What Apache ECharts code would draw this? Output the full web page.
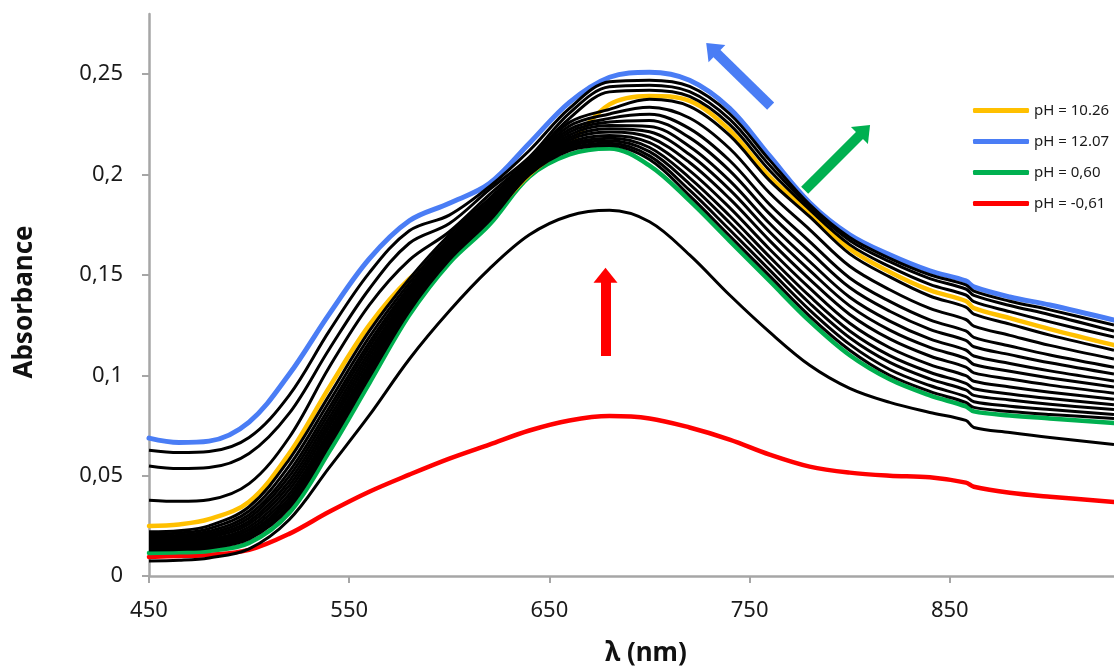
<!DOCTYPE html>
<html><head><meta charset="utf-8">
<script src="https://cdn.jsdelivr.net/npm/echarts@6.0.0/dist/echarts.min.js"></script>
<style>html,body{margin:0;padding:0;background:#fff}#c{width:1114px;height:668px}</style>
</head><body><div id="c"></div><script>
// wavelengths (nm)
const wavelengths = [450, 465, 480, 500, 520, 540, 560, 580, 600, 620, 640, 660, 680, 700, 720, 740, 760, 780, 800, 820, 840, 858, 862, 880, 900, 932];
const xTicks = [450, 550, 650, 750, 850];
const yTicks = [0, 0.05, 0.1, 0.15, 0.2, 0.25];

// highlighted spectra
const absPH1026 = [.0249, .0257, .0283, .0370, .0610, .0940, .1250, .1480, .1624, .1790, .2000, .2156, .2350, .2392, .2367, .2221, .1989, .1810, .1630, .1515, .1424, .1370, .1335, .1285, .1230, .1150];
const absPH1207 = [.0687, .0665, .0672, .0767, .1005, .1305, .1580, .1770, .1857, .1955, .2156, .2360, .2485, .2510, .2470, .2330, .2093, .1860, .1700, .1600, .1520, .1470, .1440, .1390, .1350, .1275];
const absPH060 = [.0115, .0118, .0125, .0165, .0314, .0620, .0960, .1300, .1560, .1750, .1990, .2100, .2130, .2045, .1870, .1670, .1470, .1270, .1100, .0980, .0900, .0845, .0820, .0800, .0785, .0762];
const absPHm061 = [.0095, .0100, .0105, .0130, .0210, .0320, .0420, .0505, .0585, .0655, .0725, .0775, .0797, .0785, .0740, .0680, .0605, .0545, .0515, .0500, .0492, .0465, .0445, .0415, .0395, .0369];

// other (black) spectra
const absK0 = [.0075, .0078, .0090, .0135, .0280, .0540, .0800, .1080, .1320, .1530, .1700, .1795, .1822, .1765, .1600, .1400, .1215, .1050, .0935, .0865, .0815, .0775, .0740, .0715, .0690, .0655];
const absU1 = [.0627, .0615, .0620, .0690, .0900, .1220, .1510, .1720, .1798, .1940, .2120, .2330, .2462, .2470, .2439, .2303, .2072, .1850, .1686, .1583, .1501, .1450, .1419, .1369, .1326, .1250];
const absU2 = [.0548, .0535, .0540, .0610, .0810, .1130, .1430, .1658, .1756, .1925, .2087, .2306, .2437, .2445, .2413, .2276, .2046, .1840, .1672, .1566, .1482, .1430, .1398, .1348, .1302, .1220];
const absU3 = [.0378, .0372, .0380, .0460, .0690, .1040, .1350, .1574, .1715, .1900, .2075, .2280, .2412, .2420, .2389, .2250, .2020, .1825, .1651, .1541, .1453, .1400, .1367, .1317, .1266, .1190];
const absM0 = [.0130, .0132, .0140, .0185, .0340, .0650, .0990, .1320, .1575, .1770, .2000, .2120, .2145, .2075, .1895, .1695, .1495, .1295, .1125, .1000, .0920, .0865, .0840, .0820, .0805, .0785];
const absM1 = [.0135, .0138, .0147, .0195, .0354, .0665, .1004, .1330, .1583, .1777, .2004, .2128, .2156, .2093, .1922, .1725, .1524, .1325, .1154, .1029, .0949, .0894, .0868, .0846, .0829, .0805];
const absM2 = [.0142, .0144, .0154, .0206, .0371, .0683, .1020, .1341, .1591, .1784, .2009, .2138, .2168, .2114, .1953, .1760, .1557, .1359, .1187, .1064, .0982, .0927, .0900, .0877, .0856, .0829];
const absM3 = [.0148, .0151, .0162, .0217, .0388, .0700, .1036, .1352, .1600, .1792, .2014, .2148, .2181, .2135, .1984, .1795, .1590, .1394, .1221, .1098, .1015, .0960, .0933, .0907, .0884, .0853];
const absM4 = [.0155, .0158, .0171, .0230, .0407, .0720, .1054, .1365, .1610, .1801, .2020, .2159, .2195, .2159, .2020, .1835, .1628, .1434, .1259, .1137, .1053, .0998, .0970, .0942, .0916, .0880];
const absM5 = [.0163, .0167, .0181, .0244, .0429, .0743, .1075, .1379, .1621, .1811, .2026, .2172, .2212, .2186, .2060, .1880, .1671, .1478, .1303, .1181, .1096, .1041, .1012, .0981, .0951, .0911];
const absM6 = [.0171, .0175, .0191, .0259, .0450, .0765, .1096, .1394, .1633, .1821, .2032, .2184, .2228, .2213, .2100, .1925, .1714, .1523, .1346, .1225, .1139, .1084, .1054, .1020, .0987, .0941];
const absM7 = [.0180, .0184, .0201, .0273, .0472, .0788, .1117, .1408, .1644, .1831, .2039, .2197, .2244, .2240, .2140, .1970, .1756, .1567, .1389, .1270, .1181, .1126, .1096, .1059, .1022, .0972];
const absM8 = [.0189, .0193, .0212, .0289, .0496, .0813, .1140, .1424, .1656, .1842, .2046, .2211, .2262, .2270, .2184, .2020, .1804, .1617, .1437, .1319, .1229, .1174, .1142, .1103, .1062, .1006];
const absM9 = [.0198, .0203, .0223, .0305, .0520, .0838, .1163, .1440, .1669, .1853, .2053, .2225, .2280, .2300, .2229, .2070, .1851, .1666, .1485, .1368, .1276, .1221, .1189, .1146, .1101, .1040];
const absM10 = [.0208, .0214, .0236, .0324, .0549, .0868, .1190, .1459, .1684, .1866, .2061, .2242, .2302, .2336, .2282, .2130, .1908, .1726, .1543, .1426, .1333, .1278, .1245, .1199, .1149, .1081];
const absM11 = [.0220, .0226, .0250, .0345, .0580, .0900, .1220, .1480, .1700, .1880, .2070, .2260, .2325, .2375, .2340, .2195, .1970, .1790, .1605, .1490, .1395, .1340, .1305, .1255, .1200, .1125];

// arrows: [tail, head] in data coordinates (nm, absorbance)
const arrowBlue = [[760.5, 0.2341], [731, 0.2629]];
const arrowGreen = [[777.5, 0.1922], [807.5, 0.2221]];
const arrowRed = [[678, 0.1096], [678, 0.1499]];

const legendNames = ['pH = 10.26', 'pH = 12.07', 'pH = 0,60', 'pH = -0,61'];

const C_YEL = '#FFC000', C_BLUE = '#4A7DF5', C_GREEN = '#00B050', C_RED = '#FF0000';
const FONT = '"Noto Sans", "Open Sans", sans-serif';

function pts(arr) { return wavelengths.map((w, i) => [w, arr[i]]); }

function arrowML(a, color) {
  return {
    silent: true, animation: false,
    symbol: ['none', 'triangle'], symbolSize: [24, 15],
    label: { show: false },
    lineStyle: { color: color, width: 10, type: 'solid', opacity: 1 },
    emphasis: { disabled: true },
    data: [[{ coord: a[0] }, { coord: a[1] }]]
  };
}

function colored(name, arr, color, width, arrow) {
  const s = {
    name: name, type: 'line', data: pts(arr), showSymbol: false, symbol: 'none',
    smooth: 0.35,
    lineStyle: { color: color, width: width, cap: 'round', join: 'round' },
    itemStyle: { color: color },
    emphasis: { disabled: true }, silent: true, z: 2
  };
  if (arrow) s.markLine = arrowML(arrow, color);
  return s;
}
function black(arr) {
  return {
    type: 'line', data: pts(arr), showSymbol: false, symbol: 'none',
    smooth: 0.35,
    lineStyle: { color: '#000', width: 3, join: 'round' },
    emphasis: { disabled: true }, silent: true, z: 3
  };
}

const chart = echarts.init(document.getElementById('c'), null, { renderer: 'canvas' });
chart.setOption({
  animation: false,
  backgroundColor: '#fff',
  grid: { left: 149, right: 0, top: 14, bottom: 92, containLabel: false },
  legend: {
    data: legendNames, orient: 'vertical', left: 968, top: 98,
    itemWidth: 56, itemHeight: 5, itemGap: 16,
    icon: 'roundRect',
    textStyle: { fontFamily: FONT, fontSize: 15, lineHeight: 15, color: '#1a1a1a' },
    selectedMode: false
  },
  xAxis: {
    type: 'value', min: 450, max: 932, interval: 100,
    splitLine: { show: false },
    axisLine: { lineStyle: { color: '#A6A6A6', width: 2.5 } },
    axisTick: { show: true, customValues: xTicks, length: 7, lineStyle: { color: '#A6A6A6', width: 2 } },
    axisLabel: { customValues: xTicks, fontFamily: FONT, fontSize: 22, color: '#1a1a1a', margin: 24 }
  },
  yAxis: {
    type: 'value', min: 0, max: 0.28, interval: 0.05,
    splitLine: { show: false },
    axisLine: { show: true, lineStyle: { color: '#A6A6A6', width: 2.5 } },
    axisTick: { show: true, customValues: yTicks, length: 7, lineStyle: { color: '#A6A6A6', width: 2 } },
    axisLabel: {
      customValues: yTicks, fontFamily: FONT, fontSize: 22, color: '#1a1a1a', margin: 26,
      formatter: v => String(Math.round(v * 100) / 100).replace('.', ',')
    }
  },
  graphic: [
    { type: 'text', x: 25, y: 302, rotation: Math.PI / 2, style: { text: 'Absorbance', font: 'bold 26px ' + FONT, fill: '#111', textAlign: 'center', textVerticalAlign: 'middle' } },
    { type: 'text', x: 646, y: 654, style: { text: 'λ (nm)', font: 'bold 26px ' + FONT, fill: '#111', textAlign: 'center', textVerticalAlign: 'middle' } }
  ],
  series: [
    colored(legendNames[3], absPHm061, C_RED, 4.5, arrowRed),
    colored(legendNames[2], absPH060, C_GREEN, 4.5, arrowGreen),
    colored(legendNames[0], absPH1026, C_YEL, 4.5, null),
    colored(legendNames[1], absPH1207, C_BLUE, 5, arrowBlue),
    black(absK0), black(absM0), black(absM1), black(absM2), black(absM3), black(absM4), black(absM5),
    black(absM6), black(absM7), black(absM8), black(absM9), black(absM10), black(absM11),
    black(absU3), black(absU2), black(absU1)
  ]
});
</script></body></html>
